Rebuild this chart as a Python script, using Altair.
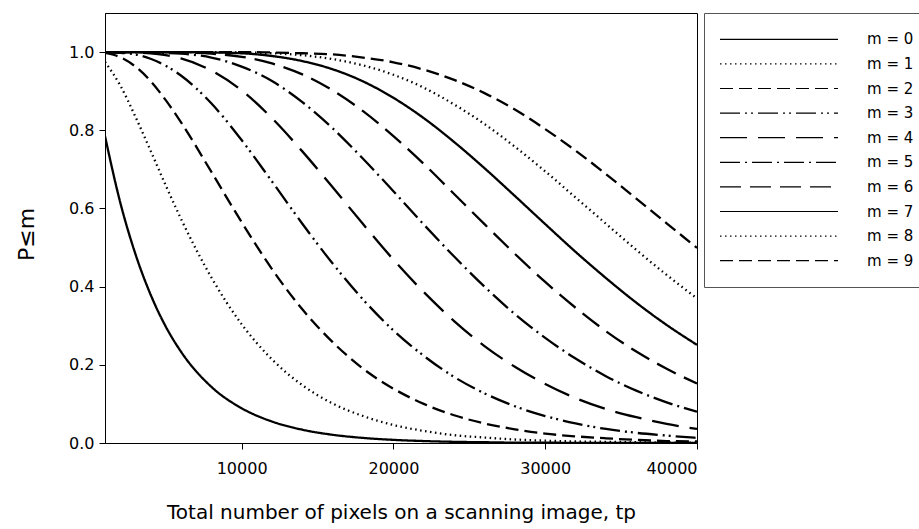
import altair as alt
import pandas as pd

# x positions (total number of pixels, tp)
tp = [1000, 2000, 3000, 4000, 5000, 6000, 8000, 10000, 12000, 14000, 16000, 18000,
      20000, 22000, 24000, 26000, 28000, 30000, 32000, 34000, 36000, 38000, 40000]

p_m0 = [0.785, 0.616, 0.484, 0.380, 0.298, 0.234, 0.144, 0.089, 0.055, 0.034, 0.021, 0.013,
        0.008, 0.005, 0.003, 0.002, 0.001, 0.001, 0.000, 0.000, 0.000, 0.000, 0.000]
p_m1 = [0.975, 0.915, 0.835, 0.748, 0.659, 0.574, 0.424, 0.304, 0.214, 0.148, 0.101, 0.069,
        0.046, 0.031, 0.020, 0.014, 0.009, 0.006, 0.004, 0.003, 0.002, 0.001, 0.001]
p_m2 = [0.998, 0.987, 0.963, 0.926, 0.877, 0.821, 0.694, 0.565, 0.445, 0.342, 0.258, 0.190,
        0.139, 0.100, 0.071, 0.050, 0.035, 0.024, 0.017, 0.012, 0.008, 0.005, 0.004]
p_m3 = [1.000, 0.998, 0.994, 0.983, 0.965, 0.940, 0.869, 0.775, 0.669, 0.561, 0.459, 0.367,
        0.288, 0.223, 0.169, 0.127, 0.094, 0.069, 0.050, 0.036, 0.026, 0.019, 0.013]
p_m4 = [1.000, 1.000, 0.999, 0.997, 0.992, 0.984, 0.953, 0.902, 0.831, 0.746, 0.654, 0.560,
        0.469, 0.386, 0.312, 0.248, 0.195, 0.151, 0.115, 0.087, 0.066, 0.049, 0.036]
p_m5 = [1.000, 1.000, 1.000, 0.999, 0.998, 0.996, 0.986, 0.963, 0.926, 0.872, 0.805, 0.727,
        0.644, 0.559, 0.477, 0.400, 0.330, 0.269, 0.216, 0.171, 0.134, 0.104, 0.080]
p_m6 = [1.000, 1.000, 1.000, 1.000, 1.000, 0.999, 0.996, 0.988, 0.971, 0.943, 0.902, 0.849,
        0.785, 0.714, 0.637, 0.560, 0.484, 0.412, 0.346, 0.286, 0.234, 0.190, 0.152]
p_m7 = [1.000, 1.000, 1.000, 1.000, 1.000, 1.000, 0.999, 0.997, 0.990, 0.977, 0.956, 0.925,
        0.883, 0.831, 0.770, 0.703, 0.632, 0.560, 0.489, 0.422, 0.359, 0.302, 0.251]
p_m8 = [1.000, 1.000, 1.000, 1.000, 1.000, 1.000, 1.000, 0.999, 0.997, 0.992, 0.982, 0.966,
        0.942, 0.909, 0.866, 0.816, 0.758, 0.695, 0.628, 0.561, 0.494, 0.430, 0.370]
p_m9 = [1.000, 1.000, 1.000, 1.000, 1.000, 1.000, 1.000, 1.000, 0.999, 0.997, 0.994, 0.986,
        0.974, 0.955, 0.929, 0.895, 0.853, 0.803, 0.748, 0.688, 0.625, 0.562, 0.499]

labels = ["m = 0", "m = 1", "m = 2", "m = 3", "m = 4",
          "m = 5", "m = 6", "m = 7", "m = 8", "m = 9"]
series = [p_m0, p_m1, p_m2, p_m3, p_m4, p_m5, p_m6, p_m7, p_m8, p_m9]

dash_patterns = [
    [1, 0],
    [1.5, 3.5],
    [13, 6],
    [20, 5, 2, 4, 2, 5],
    [27, 11],
    [20, 5, 2, 5],
    [21, 9],
    [1, 0],
    [1.5, 3.5],
    [13, 6],
]

x_ticks = [10000, 20000, 30000, 40000]
y_ticks = [0.0, 0.2, 0.4, 0.6, 0.8, 1.0]

rows = []
for lab, vals in zip(labels, series):
    for x, y in zip(tp, vals):
        rows.append({"tp": x, "p": y, "m": lab})
df = pd.DataFrame(rows)

FONT = "DejaVu Sans"

chart = alt.Chart(df).mark_line(
    color="black", strokeWidth=2.3, interpolate="monotone", clip=True
).encode(
    x=alt.X("tp:Q",
            scale=alt.Scale(domain=[1000, 40000], nice=False, zero=False),
            axis=alt.Axis(values=x_ticks, format="d",
                          title="Total number of pixels on a scanning image, tp",
                          titleY=75, titleBaseline="alphabetic",
                          labelPadding=11)),
    y=alt.Y("p:Q",
            scale=alt.Scale(domain=[0, 1.1], nice=False, zero=False),
            axis=alt.Axis(values=y_ticks, format=".1f", title="P≤m",
                          titleAngle=270, titleX=-72, titleY=221,
                          titleBaseline="alphabetic", titleAlign="center",
                          titleFontSize=22, labelPadding=5)),
    strokeDash=alt.StrokeDash(
        "m:N",
        scale=alt.Scale(domain=labels, range=dash_patterns),
        legend=alt.Legend(
            title=None, orient="none", legendX=599, legendY=0,
            symbolType="stroke", symbolSize=13924, symbolStrokeWidth=1.2,
            symbolStrokeColor="black", clipHeight=22.6, rowPadding=1.6,
            padding=15, labelOffset=28, labelFont=FONT, labelFontSize=15,
            labelColor="black", fillColor="white", strokeColor="#555",
            symbolLimit=20,
        ),
    ),
).properties(
    width=592, height=430,
    autosize=alt.AutoSizeParams(type="none"),
    padding={"left": 105, "top": 13, "right": 222, "bottom": 86},
).configure_view(
    stroke="black", strokeWidth=1
).configure_axis(
    grid=False, domainColor="black", tickColor="black", tickSize=6,
    labelColor="black", labelFont=FONT, labelFontSize=16,
    titleColor="black", titleFont=FONT, titleFontSize=20, titleFontWeight="normal",
)

chart.save("out.html", embed_options={"renderer": "svg", "actions": False})
